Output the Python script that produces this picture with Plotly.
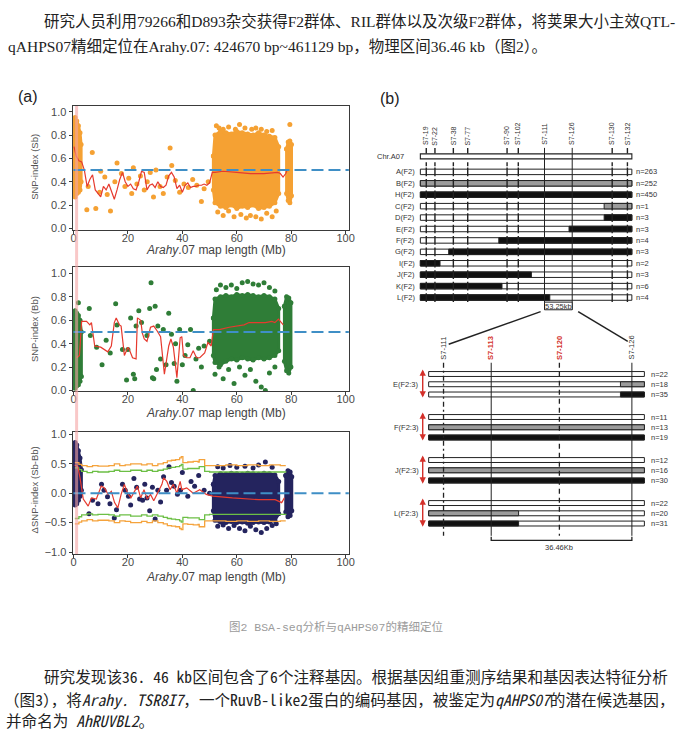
import plotly.graph_objects as go

W, H = 687, 755

# ---------------- page text ----------------
intro_lines = [
    "研究人员利用79266和D893杂交获得F2群体、RIL群体以及次级F2群体，将荚果大小主效QTL-",
    "qAHPS07精细定位在Arahy.07: 424670 bp~461129 bp，物理区间36.46 kb（图2）。",
]
caption = "图2 BSA-seq分析与qAHPS07的精细定位"
outro_lines = [
    "研究发现该36. 46 kb区间包含了6个注释基因。根据基因组重测序结果和基因表达特征分析",
    "（图3），将<i>Arahy. TSR8I7</i>，一个RuvB-like2蛋白的编码基因，被鉴定为<i>qAHPS07</i>的潜在候选基因，",
    "并命名为 <i>AhRUVBL2</i>。",
]

# ---------------- panel (a) ----------------
map_ticks = [0, 20, 40, 60, 80, 100]
qtl_band = [0.6, 1.7]   # Mb, pink band

# SNP-index (Sb)
sb_sparse_x = [4.9, 5.4, 6.9, 8.2, 9.6, 10.0, 11.5, 12.4, 13.6, 15.2, 16.0, 17.6, 18.9,
               20.3, 21.4, 22.0, 23.3, 24.6, 26.0, 27.1, 28.2, 29.4, 30.3, 31.8, 33.0,
               34.4, 35.5, 36.1, 37.4, 39.0, 40.6, 42.2, 43.8, 45.3, 47.0, 48.0, 49.5]
sb_sparse_y = [0.16, 0.36, 0.65, 0.17, 0.31, 0.49, 0.44, 0.29, 0.15, 0.40, 0.56, 0.47, 0.36,
               0.43, 0.30, 0.52, 0.38, 0.45, 0.33, 0.40, 0.48, 0.27, 0.50, 0.36, 0.30,
               0.44, 0.69, 0.54, 0.41, 0.31, 0.38, 0.35, 0.42, 0.37, 0.23, 0.34, 0.40]
sb_left_x = [0.0, 0.6, 1.2, 1.8, 2.4, 2.8]
sb_left_top = [0.93, 0.95, 0.92, 0.88, 0.82, 0.72]
sb_left_bot = [0.30, 0.27, 0.30, 0.31, 0.33, 0.40]
sb_cloud_x = [51.4, 52, 54, 56, 58, 60, 62, 64, 66, 68, 70, 72, 74, 75.4]
sb_cloud_top = [0.62, 0.80, 0.83, 0.82, 0.81, 0.83, 0.82, 0.81, 0.80, 0.82, 0.80, 0.79, 0.78, 0.70]
sb_cloud_bot = [0.33, 0.22, 0.19, 0.18, 0.20, 0.17, 0.19, 0.18, 0.20, 0.17, 0.18, 0.19, 0.22, 0.30]
sb_right_x = [78.3, 78.9, 79.5, 80.1]
sb_right_top = [0.68, 0.74, 0.75, 0.72]
sb_right_bot = [0.30, 0.24, 0.22, 0.28]
sb_out_x = [52.5, 53.5, 55, 57, 59.5, 61, 63, 65.5, 67, 69, 71, 73, 79.5,
            53, 55, 57, 59, 61.5, 63.5, 65, 67, 69, 71, 73, 74.5]
sb_out_y = [0.88, 0.86, 0.85, 0.87, 0.85, 0.89, 0.86, 0.85, 0.86, 0.85, 0.83, 0.84, 0.89,
            0.14, 0.11, 0.15, 0.10, 0.12, 0.09, 0.11, 0.10, 0.08, 0.13, 0.10, 0.15]
sb_line_x = [0.2, 1, 2, 3, 4, 5, 6, 7, 8, 9,
             10, 11, 12, 13, 14, 15, 16, 17, 18, 19,
             20, 21, 22, 23, 24, 25, 26, 27, 28, 29,
             30, 31, 32, 33, 34, 35, 36, 37, 38, 39,
             40, 41, 42, 43, 44, 45, 46, 47, 48, 49,
             50, 51, 52, 55, 60, 65, 70, 75, 76, 77,
             78, 78.5]
sb_line_y = [0.70, 0.62, 0.58, 0.57, 0.50, 0.36, 0.42, 0.46, 0.33, 0.30,
             0.27, 0.36, 0.33, 0.38, 0.31, 0.25, 0.33, 0.42, 0.48, 0.40,
             0.36, 0.38, 0.34, 0.33, 0.40, 0.49, 0.48, 0.33, 0.37, 0.38,
             0.35, 0.40, 0.36, 0.35, 0.37, 0.45, 0.48, 0.44, 0.34, 0.37,
             0.31, 0.37, 0.39, 0.35, 0.36, 0.36, 0.37, 0.37, 0.38, 0.37,
             0.39, 0.48, 0.48, 0.49, 0.48, 0.47, 0.47, 0.48, 0.47, 0.44,
             0.47, 0.50]

# SNP-index (Bb)
bb_sparse_x = [5.8, 6.2, 8.5, 10.5, 12.0, 13.5, 15.5, 16.0, 18.0, 19.5, 20.0, 21.0, 22.0,
               22.5, 23.0, 24.0, 25.0, 27.0, 28.0, 28.5, 29.0, 29.5, 30.0, 30.5, 31.0,
               32.0, 33.0, 34.0, 35.0, 36.0, 37.0, 37.5, 38.0, 39.0, 40.0, 41.0, 42.0,
               43.0, 44.0, 45.0, 46.0, 47.0, 48.0, 50.0]
bb_sparse_y = [0.70, 0.47, 0.37, 0.22, 0.43, 0.32, 0.74, 0.56, 0.35, 0.09, 0.35, 0.62, 0.14,
               0.10, 0.55, 0.68, 0.58, 0.47, 0.70, 0.92, 0.11, 0.10, 0.72, 0.18, 0.55,
               0.27, 0.52, 0.22, 0.66, 0.48, 0.23, 0.40, 0.08, 0.52, 0.22, 0.30, 0.39,
               0.52, 0.00, 0.27, 0.36, 0.20, 0.38, 0.42]
bb_left_x = [0.0, 0.6, 1.2, 1.8, 2.4, 2.9]
bb_left_top = [0.66, 0.68, 0.66, 0.64, 0.60, 0.50]
bb_left_bot = [0.03, 0.02, 0.04, 0.05, 0.08, 0.12]
bb_cloud_x = [51.4, 52, 54, 56, 58, 60, 62, 64, 66, 68, 70, 72, 74, 75.4]
bb_cloud_top = [0.62, 0.78, 0.80, 0.81, 0.80, 0.82, 0.81, 0.82, 0.81, 0.80, 0.81, 0.80, 0.78, 0.70]
bb_cloud_bot = [0.30, 0.24, 0.22, 0.25, 0.27, 0.26, 0.28, 0.27, 0.26, 0.28, 0.27, 0.28, 0.30, 0.34]
bb_right_x = [77.5, 78.3, 79.1, 79.9]
bb_right_top = [0.72, 0.80, 0.79, 0.75]
bb_right_bot = [0.25, 0.17, 0.15, 0.20]
bb_out_x = [52.5, 54, 56, 58, 60, 62, 64, 66, 68, 70, 72, 74, 1.8,
            52, 53.5, 55, 57, 59, 61, 63, 65, 67, 69, 70.5, 72, 74]
bb_out_y = [0.86, 0.90, 0.88, 0.90, 0.87, 0.92, 0.93, 0.91, 0.90, 0.92, 0.88, 0.85, 0.75,
            0.14, 0.20, 0.10, 0.18, 0.06, 0.20, 0.13, 0.18, 0.08, 0.03, 0.00, 0.15, 0.20]
bb_line_x = [1.2, 2.2, 3.0, 4.8, 6.0, 6.6, 7.8, 10.0, 12.6, 13.9,
             15.0, 15.7, 16.9, 17.5, 18.7, 20.0, 20.5, 21.7, 23.0, 23.5,
             24.7, 25.3, 26.0, 27.0, 28.3, 29.5, 30.7, 31.3, 32.0, 33.4,
             34.3, 35.0, 35.8, 36.7, 38.0, 39.2, 39.8, 40.4, 41.6, 42.8,
             44.0, 45.2, 46.4, 48.2, 49.4, 50.6, 51.4, 53.6, 57.2, 60.8,
             62.7, 64.5, 66.9, 70.5, 72.9, 74.0, 75.3, 76.5, 77.1]
bb_line_y = [0.28, 0.30, 0.59, 0.59, 0.56, 0.58, 0.38, 0.37, 0.33, 0.38,
             0.58, 0.62, 0.56, 0.55, 0.30, 0.37, 0.35, 0.28, 0.27, 0.62,
             0.60, 0.49, 0.44, 0.42, 0.54, 0.55, 0.51, 0.48, 0.46, 0.14,
             0.28, 0.38, 0.44, 0.37, 0.11, 0.45, 0.46, 0.30, 0.28, 0.28,
             0.34, 0.28, 0.28, 0.32, 0.41, 0.38, 0.52, 0.52, 0.54, 0.55,
             0.56, 0.58, 0.58, 0.58, 0.59, 0.58, 0.61, 0.58, 0.56]

# delta SNP-index (Sb-Bb)
d_sparse_x = [5.7, 7.0, 9.0, 10.3, 11.2, 12.5, 13.4, 15.0, 15.8, 18.0, 19.0, 20.2, 21.0,
              22.2, 23.2, 24.3, 25.4, 26.2, 27.0, 28.0, 29.0, 30.0, 31.0, 32.0, 33.1,
              34.2, 35.1, 36.0, 37.0, 38.2, 39.3, 40.0, 42.0, 43.2, 44.5, 46.0, 48.0, 50.0]
d_sparse_y = [-0.35, -0.12, -0.18, 0.15, 0.05, -0.06, -0.18, -0.42, -0.28, 0.15, 0.05, -0.05, -0.20,
              0.25, 0.10, -0.10, -0.12, 0.15, -0.08, -0.30, 0.10, -0.44, 0.05, -0.15, 0.28,
              0.05, 0.45, 0.18, 0.12, -0.02, 0.05, 0.35, -0.05, 0.20, 0.12, 0.30, 0.05, 0.00]
d_left_x = [0.0, 0.6, 1.2, 1.8, 2.4, 2.9]
d_left_top = [0.80, 0.86, 0.82, 0.72, 0.60, 0.40]
d_left_bot = [-0.15, -0.20, -0.18, -0.12, -0.05, 0.05]
d_cloud_x = [51.4, 52, 54, 56, 58, 60, 62, 64, 66, 68, 70, 72, 74, 75.4]
d_cloud_top = [0.15, 0.30, 0.33, 0.32, 0.34, 0.33, 0.32, 0.34, 0.33, 0.32, 0.34, 0.33, 0.31, 0.20]
d_cloud_bot = [-0.30, -0.46, -0.49, -0.50, -0.48, -0.50, -0.49, -0.51, -0.50, -0.49, -0.50, -0.49, -0.46, -0.35]
d_right_x = [78.0, 78.8, 79.6, 80.2]
d_right_top = [0.30, 0.38, 0.36, 0.28]
d_right_bot = [-0.32, -0.40, -0.38, -0.30]
d_out_x = [53, 55, 57.5, 60, 63, 66, 68, 70.5, 73,
           53, 55, 57, 59, 61, 63, 65, 67, 69, 71, 73, 74.5]
d_out_y = [0.45, 0.43, 0.47, 0.44, 0.46, 0.43, 0.48, 0.53, 0.44,
           -0.56, -0.54, -0.60, -0.55, -0.60, -0.64, -0.56, -0.62, -0.67, -0.60, -0.55, -0.52]
d_line_x = [0.4, 1.6, 2.4, 3.6, 5.4, 6.6, 8.4, 10.2, 11.4, 12.7,
            13.9, 15.1, 16.3, 17.5, 18.7, 19.9, 21.1, 22.3, 23.5, 24.7,
            25.9, 27.1, 28.3, 29.5, 30.7, 32.5, 33.1, 34.3, 35.5, 36.7,
            38.0, 39.2, 39.8, 41.6, 44.0, 46.4, 48.8, 51.2, 58.4, 63.3,
            68.1, 74.1, 76.5, 77.5]
d_line_y = [0.48, 0.45, 0.26, -0.10, -0.22, -0.08, -0.10, 0.12, 0.09, -0.02,
            0.03, -0.16, -0.25, -0.02, 0.15, 0.00, -0.08, 0.03, 0.12, -0.08,
            0.06, -0.10, -0.02, -0.13, -0.02, 0.15, 0.26, 0.20, 0.06, 0.15,
            0.00, 0.20, 0.06, 0.09, 0.00, 0.06, -0.02, -0.05, -0.08, -0.10,
            -0.11, -0.11, -0.16, -0.08]
# confidence thresholds (99 % orange, 95 % green)
thr_x = [0.5, 2, 3, 5, 7, 9, 11, 13, 15, 17, 19, 21, 23, 25, 27, 29, 31, 33, 34.5, 36,
         37.5, 39, 39.6, 40.2, 42, 44, 45.8, 46.2, 47.8, 48.2, 50, 52, 56, 60, 64, 68,
         72, 76, 78]
thr99_up = [0.52, 0.49, 0.47, 0.45, 0.47, 0.46, 0.46, 0.47, 0.50, 0.47, 0.48, 0.50, 0.50,
            0.48, 0.50, 0.47, 0.50, 0.52, 0.55, 0.56, 0.57, 0.60, 0.62, 0.52, 0.53, 0.54,
            0.53, 0.57, 0.57, 0.47, 0.47, 0.47, 0.48, 0.47, 0.48, 0.47, 0.48, 0.47, 0.47]
thr95_up = [0.43, 0.40, 0.37, 0.35, 0.37, 0.36, 0.36, 0.37, 0.39, 0.37, 0.37, 0.39, 0.39,
            0.37, 0.39, 0.37, 0.39, 0.41, 0.43, 0.44, 0.45, 0.47, 0.49, 0.41, 0.42, 0.42,
            0.42, 0.45, 0.45, 0.37, 0.36, 0.36, 0.36, 0.36, 0.36, 0.36, 0.36, 0.36, 0.35]
thr99_lo = [-0.52, -0.49, -0.47, -0.45, -0.47, -0.46, -0.46, -0.47, -0.50, -0.47, -0.48, -0.50, -0.50,
            -0.48, -0.50, -0.47, -0.50, -0.52, -0.55, -0.56, -0.57, -0.60, -0.62, -0.52, -0.53, -0.54,
            -0.53, -0.57, -0.57, -0.47, -0.47, -0.47, -0.48, -0.47, -0.48, -0.47, -0.48, -0.47, -0.47]
thr95_lo = [-0.43, -0.40, -0.37, -0.35, -0.37, -0.36, -0.36, -0.37, -0.39, -0.37, -0.37, -0.39, -0.39,
            -0.37, -0.39, -0.37, -0.39, -0.41, -0.43, -0.44, -0.45, -0.47, -0.49, -0.41, -0.42, -0.42,
            -0.42, -0.45, -0.45, -0.37, -0.36, -0.36, -0.36, -0.36, -0.36, -0.36, -0.36, -0.36, -0.35]

# ---------------- panel (b) ----------------
# upper map: position along the 0-100 drawn chromosome segment
chr_markers = ["S7-19", "S7-22", "S7-38", "S7-77", "S7-90", "S7-102", "S7-111", "S7-126", "S7-130", "S7-132"]
chr_marker_pos = [2.8, 6.9, 15.6, 22.4, 41.0, 46.3, 58.7, 71.8, 90.7, 97.9]
flank_markers = ["S7-111", "S7-126"]
rec_names = ["A(F2)", "B(F2)", "H(F2)", "C(F2)", "D(F2)", "E(F2)", "F(F2)", "G(F2)", "I(F2)", "J(F2)", "K(F2)", "L(F2)"]
rec_counts = [263, 252, 450, 1, 3, 3, 4, 3, 2, 3, 6, 4]
rec_from = [None, 0, 0, 86.9, 86.9, 70.3, 37.1, 13.4, 0, 0, 0, 0]
rec_to = [None, 100, 100, 100, 100, 100, 100, 100, 9.3, 52.5, 38.6, 61.2]
rec_tone = ["none", "grey", "black", "grey", "black", "black", "black", "black", "black", "black", "black", "black"]
interval_1 = "53.25kb"

# lower map (F2:3 families)
fine_markers = ["S7-111", "S7-113", "S7-120", "S7-126"]
fine_pos = [6.9, 29.0, 60.6, 94.2]
fine_dash = ["dashdot", "solid", "dash", "solid"]
fine_red = [False, True, True, False]
fam_names = ["E(F2:3)", "F(F2:3)", "J(F2:3)", "L(F2:3)"]
fam_counts = [[22, 18, 35], [11, 13, 19], [12, 16, 30], [22, 20, 31]]
fam_from = [[None, 88.9, 88.9], [None, 0, 0], [None, 0, 0], [None, 0, 0]]
fam_to = [[None, 100, 100], [None, 100, 100], [None, 100, 100], [None, 41.7, 41.7]]
sub_tone = ["none", "grey", "black"]
interval_2 = "36.46Kb"

TONE = {"grey": "#9b9b9b", "black": "#111111"}
ORANGE, GREEN, NAVY = "#f5a133", "#2f7d37", "#24245e"
RED, BLUE = "#e63a2e", "#3f8fc6"


def px(x):
    return x / W


def py(y):
    return 1 - y / H


def note(text, x, y, size, family="Liberation Sans", color="#222", xa="left", ya="middle", **kw):
    # page-positioned text (pixels from top-left)
    return dict(text=text, x=px(x), y=py(y), xref="paper", yref="paper", xanchor=xa, yanchor=ya,
                showarrow=False, font=dict(family=family, size=size, color=color), **kw)


fig = go.Figure()

# ---- scatter panels ----
panels = [
    dict(ax="", col=ORANGE, sx=sb_sparse_x, sy=sb_sparse_y, ox=sb_out_x, oy=sb_out_y,
         blobs=[(sb_left_x, sb_left_top, sb_left_bot), (sb_cloud_x, sb_cloud_top, sb_cloud_bot),
                (sb_right_x, sb_right_top, sb_right_bot)], lx=sb_line_x, ly=sb_line_y),
    dict(ax="2", col=GREEN, sx=bb_sparse_x, sy=bb_sparse_y, ox=bb_out_x, oy=bb_out_y,
         blobs=[(bb_left_x, bb_left_top, bb_left_bot), (bb_cloud_x, bb_cloud_top, bb_cloud_bot),
                (bb_right_x, bb_right_top, bb_right_bot)], lx=bb_line_x, ly=bb_line_y),
    dict(ax="3", col=NAVY, sx=d_sparse_x, sy=d_sparse_y, ox=d_out_x, oy=d_out_y,
         blobs=[(d_left_x, d_left_top, d_left_bot), (d_cloud_x, d_cloud_top, d_cloud_bot),
                (d_right_x, d_right_top, d_right_bot)], lx=d_line_x, ly=d_line_y),
]

for p in panels:
    xa, ya = "x" + p["ax"], "y" + p["ax"]
    for bx, top, bot in p["blobs"]:
        fig.add_trace(go.Scatter(
            x=bx + bx[::-1] + bx[:1], y=top + bot[::-1] + top[:1],
            mode="lines+markers", fill="toself", fillcolor=p["col"],
            line=dict(color=p["col"], width=3), marker=dict(color=p["col"], size=5),
            xaxis=xa, yaxis=ya, hoverinfo="skip"))
    fig.add_trace(go.Scatter(x=p["sx"] + p["ox"], y=p["sy"] + p["oy"], mode="markers",
                             marker=dict(color=p["col"], size=5), xaxis=xa, yaxis=ya))
    if p["ax"] == "3":
        for ty, tc in [(thr99_up, "#f5a33c"), (thr99_lo, "#f5a33c"),
                       (thr95_up, "#6cbf45"), (thr95_lo, "#6cbf45")]:
            fig.add_trace(go.Scatter(x=thr_x, y=ty, mode="lines", line=dict(color=tc, width=1.3),
                                     line_shape="hv", xaxis=xa, yaxis=ya))
    fig.add_trace(go.Scatter(x=p["lx"], y=p["ly"], mode="lines",
                             line=dict(color=RED, width=1.2), xaxis=xa, yaxis=ya))

# invisible anchors so the map axes exist
fig.add_trace(go.Scatter(x=chr_marker_pos, y=[0] * len(chr_marker_pos), mode="markers",
                         marker=dict(opacity=0), xaxis="x4", yaxis="y4", hoverinfo="skip"))
fig.add_trace(go.Scatter(x=fine_pos, y=[0] * len(fine_pos), mode="markers",
                         marker=dict(opacity=0), xaxis="x5", yaxis="y5", hoverinfo="skip"))

axis_style = dict(showline=True, mirror=True, linecolor="#3a3a3a", linewidth=1.2,
                  ticks="outside", ticklen=3, tickcolor="#3a3a3a", showgrid=False,
                  zeroline=False, tickfont=dict(family="Liberation Sans", size=11, color="#4a4a4a"))
xdom = [px(71.5), px(351)]
ydoms = [[py(229), py(104)], [py(392.3), py(267.3)], [py(556.7), py(433.3)]]
yticks = [[0, 0.2, 0.4, 0.6, 0.8, 1.0], [0, 0.2, 0.4, 0.6, 0.8, 1.0], [-1.0, -0.5, 0.0, 0.5, 1.0]]
yranges = [[-0.01, 1.05], [-0.005, 1.05], [-1.03, 1.045]]

layout = dict(width=W, height=H, margin=dict(l=0, r=0, t=0, b=0),
              paper_bgcolor="white", plot_bgcolor="white", showlegend=False)
for i, suf in enumerate(["", "2", "3"]):
    layout["xaxis" + suf] = dict(axis_style, domain=xdom, range=[-0.3, 101.2], tickvals=map_ticks,
                                 ticklabelstandoff=-5, anchor="y" + suf)
    layout["yaxis" + suf] = dict(axis_style, domain=ydoms[i], range=yranges[i], tickvals=yticks[i],
                                 tickformat=".1f", anchor="x" + suf)
# map axes: 0-100 spans the drawn bars, wider range leaves room for labels
hidden = dict(visible=False, showgrid=False, zeroline=False, fixedrange=True)
layout["xaxis4"] = dict(hidden, domain=[px(376.2), px(675.8)], range=[-22, 118], anchor="y4")
layout["yaxis4"] = dict(hidden, domain=[py(320.8), py(124.5)], range=[14, -3], anchor="x4")
layout["xaxis5"] = dict(hidden, domain=[px(377.1), px(682.7)], range=[-25, 115], anchor="y5")
layout["yaxis5"] = dict(hidden, domain=[py(555), py(305)], range=[17.39, -6.76], anchor="x5")
fig.update_layout(**layout)

shapes = []
ann = []

# blue reference lines and the QTL band
for suf, ref in [("", 0.5), ("2", 0.5), ("3", 0.0)]:
    shapes.append(dict(type="line", xref="x" + suf, yref="y" + suf, x0=0, x1=101.2, y0=ref, y1=ref,
                       line=dict(color=BLUE, width=2, dash="12px,5px")))
shapes.append(dict(type="rect", xref="x", yref="paper", x0=qtl_band[0], x1=qtl_band[1],
                   y0=py(557), y1=py(104), fillcolor="#f5a3a3", opacity=0.6, line_width=0, layer="above"))

# axis titles
ytitles = ["SNP-index (Sb)", "SNP-index (Bb)", "\u0394SNP-index (Sb-Bb)"]
ycent = [166, 330, 492]
xtitle_y = [250, 414, 580]
for t, yc, xt in zip(ytitles, ycent, xtitle_y):
    ann.append(note(t, 33, yc, 9.5, color="#555", xa="center", textangle=-90))
    ann.append(note("<i>Arahy</i>.07 map length (Mb)", 217, xt, 12, color="#444", xa="center"))

# ---- panel (b), upper map ----
DIAG = dict(family="Liberation Sans", color="#333")
chr_y = -0.36
shapes.append(dict(type="rect", xref="x4", yref="y4", x0=0, x1=100, y0=chr_y - 0.22, y1=chr_y + 0.22,
                   line=dict(color="#222", width=1.1), fillcolor="white"))
ann.append(dict(text="Chr.A07", x=-7, y=chr_y, xref="x4", yref="y4", xanchor="right", yanchor="middle",
                showarrow=False, font=dict(DIAG, size=7.5)))
for i, name in enumerate(rec_names):
    r = i + 1
    shapes.append(dict(type="rect", xref="x4", yref="y4", x0=0, x1=100, y0=r - 0.24, y1=r + 0.24,
                       line=dict(color="#222", width=1), fillcolor="white"))
    if rec_tone[i] != "none":
        shapes.append(dict(type="rect", xref="x4", yref="y4", x0=rec_from[i], x1=rec_to[i],
                           y0=r - 0.24, y1=r + 0.24, line=dict(color="#222", width=1),
                           fillcolor=TONE[rec_tone[i]]))
    ann.append(dict(text=name, x=-1.8, y=r, xref="x4", yref="y4", xanchor="right", yanchor="middle",
                    showarrow=False, font=dict(DIAG, size=7.5)))
    ann.append(dict(text="n=%d" % rec_counts[i], x=101.2, y=r, xref="x4", yref="y4", xanchor="left",
                    yanchor="middle", showarrow=False, font=dict(DIAG, size=7.5)))
for name, pos in zip(chr_markers, chr_marker_pos):
    if name in flank_markers:
        shapes.append(dict(type="line", xref="x4", yref="y4", x0=pos, x1=pos, y0=-1.1, y1=13.07,
                           line=dict(color="#222", width=1)))
    else:
        # short marker ticks: one above the chromosome, one between chr and A, one across each bar
        segs = [(-1.1, -0.6), (0.15, 0.5)] + [(r - 0.38, r + 0.38) for r in range(1, len(rec_names) + 1)]
        path = " ".join("M %s,%s L %s,%s" % (pos, a, pos, b) for a, b in segs)
        shapes.append(dict(type="path", xref="x4", yref="y4", path=path, line=dict(color="#222", width=1.4)))
    ann.append(dict(text=name, x=pos, y=-1.15, xref="x4", yref="y4", textangle=-90,
                    xanchor="center", yanchor="bottom", showarrow=False, font=dict(DIAG, size=7)))
flank_pos = [chr_marker_pos[chr_markers.index(m)] for m in flank_markers]
shapes.append(dict(type="rect", xref="x4", yref="y4", x0=flank_pos[0], x1=flank_pos[1], y0=12.4, y1=13.07,
                   line=dict(color="#222", width=1), fillcolor="white"))
ann.append(dict(text=interval_1, x=sum(flank_pos) / 2, y=12.75, xref="x4", yref="y4",
                xanchor="center", yanchor="middle", showarrow=False, font=dict(DIAG, size=7.5)))

# zoom connector lines
shapes.append(dict(type="line", xref="x5", yref="y5", x0=51.9, y0=-6.09, x1=9.3, y1=-2.9,
                   line=dict(color="#222", width=1.5)))
shapes.append(dict(type="line", xref="x5", yref="y5", x0=69.3, y0=-6.09, x1=92.3, y1=-3.19,
                   line=dict(color="#222", width=1.5)))

# ---- panel (b), lower map ----
for g, fam in enumerate(fam_names):
    for j in range(3):
        r = 4.2 * g + j
        shapes.append(dict(type="rect", xref="x5", yref="y5", x0=0, x1=100, y0=r - 0.24, y1=r + 0.24,
                           line=dict(color="#222", width=1), fillcolor="white"))
        if sub_tone[j] != "none":
            shapes.append(dict(type="rect", xref="x5", yref="y5", x0=fam_from[g][j], x1=fam_to[g][j],
                               y0=r - 0.24, y1=r + 0.24, line=dict(color="#222", width=1),
                               fillcolor=TONE[sub_tone[j]]))
        ann.append(dict(text="n=%d" % fam_counts[g][j], x=102.3, y=r, xref="x5", yref="y5",
                        xanchor="left", yanchor="middle", showarrow=False, font=dict(DIAG, size=7.5)))
    ann.append(dict(text=fam, x=-3.7, y=4.2 * g + 1, xref="x5", yref="y5", xanchor="right",
                    yanchor="middle", showarrow=False, font=dict(DIAG, size=7.5)))
    ann.append(dict(text="", x=-2.75, y=4.2 * g - 0.45, ax=-2.75, ay=4.2 * g + 2.45,
                    xref="x5", yref="y5", axref="x5", ayref="y5", showarrow=True,
                    arrowhead=2, arrowside="end+start", arrowsize=0.9, arrowwidth=1.4,
                    arrowcolor="#d3302a"))
for name, pos, dash, red in zip(fine_markers, fine_pos, fine_dash, fine_red):
    shapes.append(dict(type="line", xref="x5", yref="y5", x0=pos, x1=pos, y0=-1.1, y1=15.8,
                       line=dict(color="#222", width=1.3 if dash != "solid" else 1,
                                 dash={"dashdot": "5px,3px,2px,3px", "dash": "5px,4px"}.get(dash, "solid"))))
    ann.append(dict(text="<b>%s</b>" % name if red else name, x=pos, y=-1.2, xref="x5", yref="y5",
                    textangle=-90, xanchor="center", yanchor="bottom", showarrow=False,
                    font=dict(family="Liberation Sans", size=7.5, color="#d3302a" if red else "#333")))
shapes.append(dict(type="path", xref="x5", yref="y5",
                   path="M %s,15.9 L %s,16.25 L %s,16.25 L %s,15.9" % (fine_pos[1], fine_pos[1], fine_pos[3], fine_pos[3]),
                   line=dict(color="#222", width=1.3)))
ann.append(dict(text=interval_2, x=60.6, y=16.9, xref="x5", yref="y5", xanchor="center",
                yanchor="middle", showarrow=False, font=dict(DIAG, size=7.5)))

# ---- labels and page text ----
ann.append(note("(a)", 14, 95, 16))
ann.append(note("(b)", 380, 97, 16))
SERIF = "Liberation Serif, Noto Sans CJK SC"
ann.append(note(intro_lines[0], 40, 19, 15.5, family=SERIF))
ann.append(note(intro_lines[1], 4, 44, 15.5, family=SERIF))
ann.append(note(caption, 338, 631, 11.5, family="Liberation Mono, Noto Sans CJK SC", color="#9b9b9b",
                xa="center"))
BODY = "Noto Sans Mono CJK SC, Noto Sans CJK SC"
for line, x0, y0 in zip(outro_lines, [40, 0, 2], [680, 703, 725]):
    ann.append(note(line, x0, y0, 15.6, family=BODY))

fig.update_layout(shapes=shapes, annotations=ann)
fig.write_html("out.html", config={"displayModeBar": False},
               post_script="document.body.style.margin='0';")
